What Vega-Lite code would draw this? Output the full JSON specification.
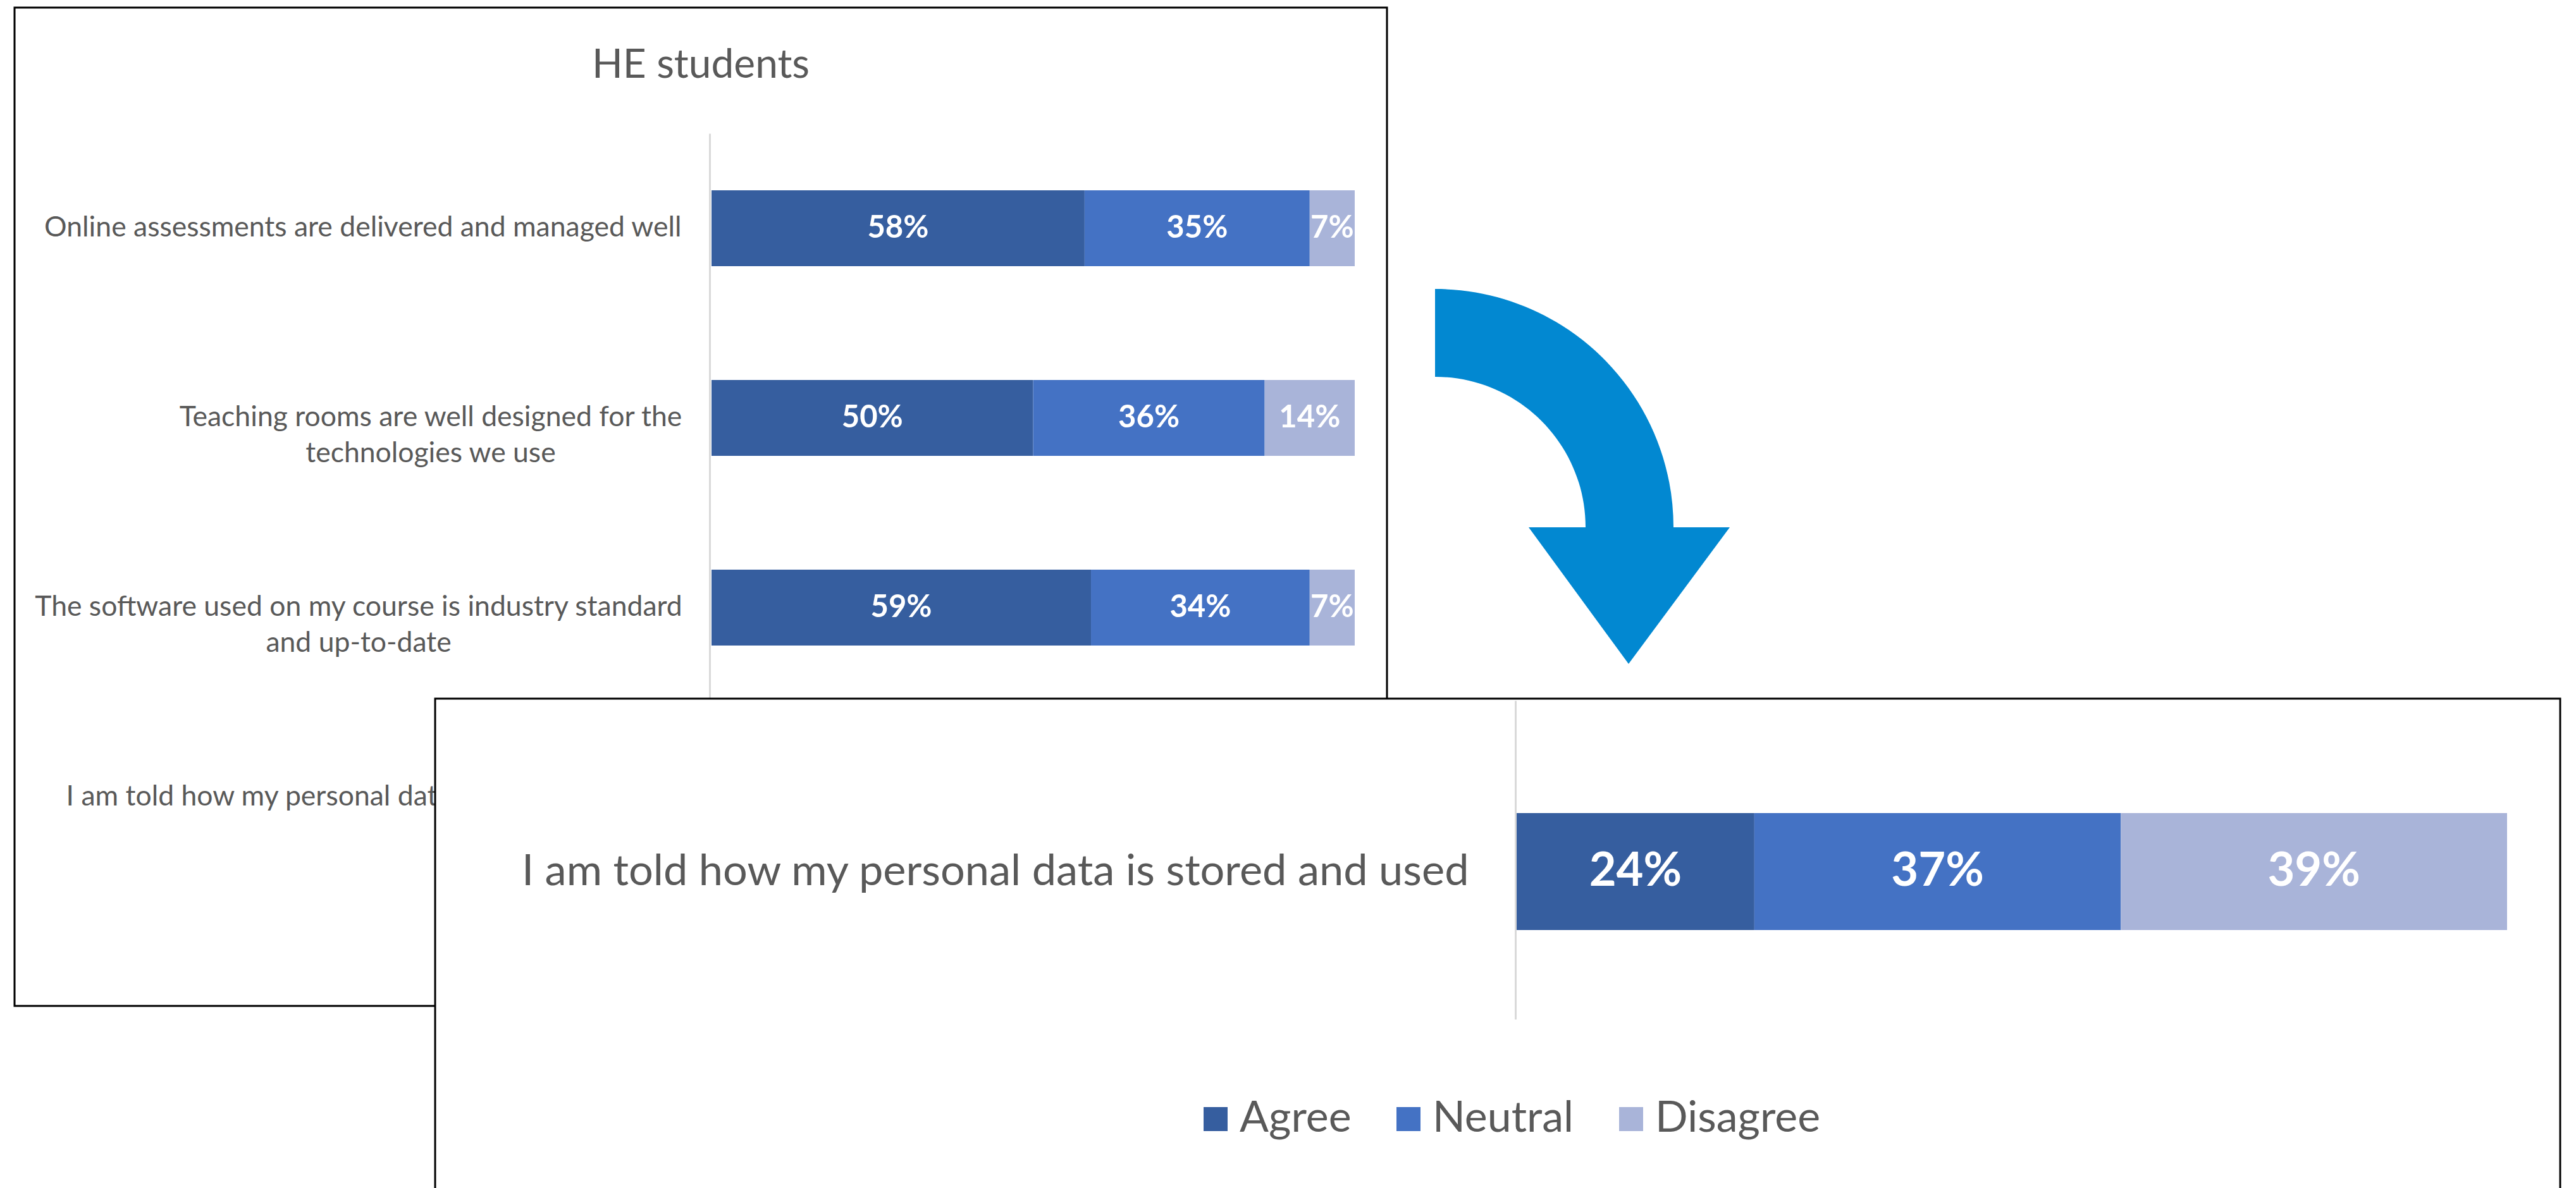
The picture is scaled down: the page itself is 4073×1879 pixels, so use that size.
{
  "$schema": "https://vega.github.io/schema/vega-lite/v6.json",
  "autosize": {"type": "none"},
  "width": 4073,
  "height": 1879,
  "padding": 0,
  "background": "white",
  "datasets": {
    "survey": [
      {"question": "Online assessments are delivered and managed well", "response": "Agree", "pct": 0.58, "rank": 1},
      {"question": "Online assessments are delivered and managed well", "response": "Neutral", "pct": 0.35, "rank": 2},
      {"question": "Online assessments are delivered and managed well", "response": "Disagree", "pct": 0.07, "rank": 3},
      {"question": "Teaching rooms are well designed for the technologies we use", "response": "Agree", "pct": 0.50, "rank": 1},
      {"question": "Teaching rooms are well designed for the technologies we use", "response": "Neutral", "pct": 0.36, "rank": 2},
      {"question": "Teaching rooms are well designed for the technologies we use", "response": "Disagree", "pct": 0.14, "rank": 3},
      {"question": "The software used on my course is industry standard and up-to-date", "response": "Agree", "pct": 0.59, "rank": 1},
      {"question": "The software used on my course is industry standard and up-to-date", "response": "Neutral", "pct": 0.34, "rank": 2},
      {"question": "The software used on my course is industry standard and up-to-date", "response": "Disagree", "pct": 0.07, "rank": 3},
      {"question": "I am told how my personal data is stored and used", "response": "Agree", "pct": 0.24, "rank": 1},
      {"question": "I am told how my personal data is stored and used", "response": "Neutral", "pct": 0.37, "rank": 2},
      {"question": "I am told how my personal data is stored and used", "response": "Disagree", "pct": 0.39, "rank": 3}
    ],
    "panels": [
      {"panel": "HE students", "kind": "full"},
      {"panel": "I am told how my personal data is stored and used", "kind": "zoom"},
      {"panel": "arrow", "kind": "arrow"}
    ]
  },
  "resolve": {"scale": {"x": "independent", "y": "independent"}, "axis": {"x": "independent", "y": "independent"}},
  "layer": [
    {
      "data": {"name": "panels"},
      "transform": [{"filter": "datum.kind === 'full'"}],
      "mark": {"type": "rect", "filled": false, "stroke": "#000000", "strokeWidth": 3},
      "encoding": {
        "x": {"field": "panel", "type": "nominal", "scale": {"type": "band", "range": [23, 2193], "paddingInner": 0, "paddingOuter": 0}, "axis": null},
        "y": {"field": "panel", "type": "nominal", "scale": {"type": "band", "range": [12, 1591], "paddingInner": 0, "paddingOuter": 0}, "axis": null}
      }
    },
    {
      "data": {"name": "panels"},
      "transform": [{"filter": "datum.kind === 'full'"}],
      "mark": {"type": "text", "font": "Lato", "fontSize": 64, "color": "#595959", "align": "center", "baseline": "middle"},
      "encoding": {
        "x": {"field": "panel", "type": "nominal", "scale": {"type": "band", "range": [23, 2193], "paddingInner": 0, "paddingOuter": 0}, "axis": null},
        "y": {"field": "panel", "type": "nominal", "scale": {"type": "point", "range": [54, 154]}, "axis": null},
        "text": {"field": "panel", "type": "nominal"}
      }
    },
    {
      "data": {"name": "survey"},
      "layer": [
        {
          "mark": {"type": "bar"},
          "encoding": {
            "y": {
              "field": "question", "type": "nominal",
              "sort": ["Online assessments are delivered and managed well", "Teaching rooms are well designed for the technologies we use", "The software used on my course is industry standard and up-to-date", "I am told how my personal data is stored and used"],
              "scale": {"range": [211, 1411], "paddingInner": 0.6, "paddingOuter": 0.3},
              "axis": {
                "orient": "left", "title": null, "offset": -1122, "ticks": false, "tickSize": 0, "zindex": 0,
                "domainColor": "#D9D9D9", "domainWidth": 3,
                "labelFont": "Lato", "labelFontSize": 44.5, "labelColor": "#595959",
                "labelAlign": {"condition": {"test": "datum.value === 'Teaching rooms are well designed for the technologies we use' || datum.value === 'The software used on my course is industry standard and up-to-date'", "value": "center"}, "value": "right"},
                "labelPadding": {"condition": [{"test": "datum.value === 'Teaching rooms are well designed for the technologies we use'", "value": 441.5}, {"test": "datum.value === 'The software used on my course is industry standard and up-to-date'", "value": 555.5}], "value": 45},
                "labelBaseline": "middle",
                "labelLimit": 3000, "labelOverlap": false, "labelLineHeight": 57,
                "labelExpr": "datum.value === 'Teaching rooms are well designed for the technologies we use' ? ['Teaching rooms are well designed for the', 'technologies we use'] : datum.value === 'The software used on my course is industry standard and up-to-date' ? ['The software used on my course is industry standard', 'and up-to-date'] : datum.label"
              }
            },
            "x": {"field": "pct", "type": "quantitative", "stack": "zero", "scale": {"domain": [0, 1], "range": [1125, 2142]}, "axis": null},
            "color": {
              "field": "response", "type": "nominal",
              "scale": {"domain": ["Agree", "Neutral", "Disagree"], "range": ["#365E9F", "#4472C4", "#A9B4D9"]},
              "legend": {
                "title": null, "orient": "none", "legendX": 1888, "legendY": 1736, "direction": "horizontal", "zindex": 1,
                "symbolType": "square", "symbolSize": 1444, "symbolStrokeWidth": 0,
                "labelFont": "Lato", "labelFontSize": 68, "labelColor": "#595959",
                "labelOffset": 4, "columnPadding": 56, "padding": 0, "labelLimit": 1000
              }
            },
            "order": {"field": "rank", "type": "quantitative"}
          }
        },
        {
          "mark": {"type": "text", "color": "white", "font": "Lato", "fontSize": 49, "fontWeight": "bold", "align": "center", "baseline": "middle"},
          "encoding": {
            "y": {"field": "question", "type": "nominal", "sort": ["Online assessments are delivered and managed well", "Teaching rooms are well designed for the technologies we use", "The software used on my course is industry standard and up-to-date", "I am told how my personal data is stored and used"]},
            "x": {"field": "pct", "type": "quantitative", "stack": "zero", "bandPosition": 0.5},
            "detail": {"field": "response", "type": "nominal"},
            "order": {"field": "rank", "type": "quantitative"},
            "text": {"field": "pct", "type": "quantitative", "format": ".0%"}
          }
        }
      ]
    },
    {
      "data": {"name": "panels"},
      "transform": [{"filter": "datum.kind === 'arrow'"}],
      "mark": {"type": "point", "shape": "M0,-377 A377,377 0 0 1 377,0 L466,0 L306,216 L148,0 L238,0 A238,238 0 0 0 0,-238 Z", "size": 4, "filled": true, "color": "#0288D1", "opacity": 1, "strokeWidth": 0},
      "encoding": {
        "x": {"field": "panel", "type": "nominal", "scale": {"type": "point", "range": [2169, 2369]}, "axis": null},
        "y": {"field": "panel", "type": "nominal", "scale": {"type": "point", "range": [734, 934]}, "axis": null}
      }
    },
    {
      "data": {"name": "panels"},
      "transform": [{"filter": "datum.kind === 'zoom'"}],
      "mark": {"type": "rect", "fill": "white", "stroke": "#000000", "strokeWidth": 3},
      "encoding": {
        "x": {"field": "panel", "type": "nominal", "scale": {"type": "band", "range": [688, 4048], "paddingInner": 0, "paddingOuter": 0}, "axis": null},
        "y": {"field": "panel", "type": "nominal", "scale": {"type": "band", "range": [1105, 1905], "paddingInner": 0, "paddingOuter": 0}, "axis": null}
      }
    },
    {
      "data": {"name": "survey"},
      "transform": [{"filter": "datum.question === 'I am told how my personal data is stored and used'"}],
      "layer": [
        {
          "mark": {"type": "bar"},
          "encoding": {
            "y": {
              "field": "question", "type": "nominal",
              "scale": {"range": [1108, 1612], "paddingInner": 0, "paddingOuter": 0.862, "align": 0.558},
              "axis": {
                "orient": "left", "title": null, "offset": -2396, "ticks": false, "tickSize": 0, "zindex": 1,
                "domainColor": "#D9D9D9", "domainWidth": 3,
                "labelFont": "Lato", "labelFontSize": 68.5, "labelColor": "#595959",
                "labelAlign": "right", "labelBaseline": "middle", "labelPadding": 74,
                "labelLimit": 3000, "labelOverlap": false
              }
            },
            "x": {"field": "pct", "type": "quantitative", "stack": "zero", "scale": {"domain": [0, 1], "range": [2398, 3964]}, "axis": null},
            "color": {
              "field": "response", "type": "nominal",
              "scale": {"domain": ["Agree", "Neutral", "Disagree"], "range": ["#365E9F", "#4472C4", "#A9B4D9"]},
              "legend": {
                "title": null, "orient": "none", "legendX": 1888, "legendY": 1736, "direction": "horizontal", "zindex": 1,
                "symbolType": "square", "symbolSize": 1444, "symbolStrokeWidth": 0,
                "labelFont": "Lato", "labelFontSize": 68, "labelColor": "#595959",
                "labelOffset": 4, "columnPadding": 56, "padding": 0, "labelLimit": 1000
              }
            },
            "order": {"field": "rank", "type": "quantitative"}
          }
        },
        {
          "mark": {"type": "text", "color": "white", "font": "Lato", "fontSize": 74, "fontWeight": "bold", "align": "center", "baseline": "middle"},
          "encoding": {
            "y": {"field": "question", "type": "nominal"},
            "x": {"field": "pct", "type": "quantitative", "stack": "zero", "bandPosition": 0.5},
            "detail": {"field": "response", "type": "nominal"},
            "order": {"field": "rank", "type": "quantitative"},
            "text": {"field": "pct", "type": "quantitative", "format": ".0%"}
          }
        }
      ]
    }
  ],
  "config": {
    "view": {"stroke": null},
    "font": "Lato"
  }
}
